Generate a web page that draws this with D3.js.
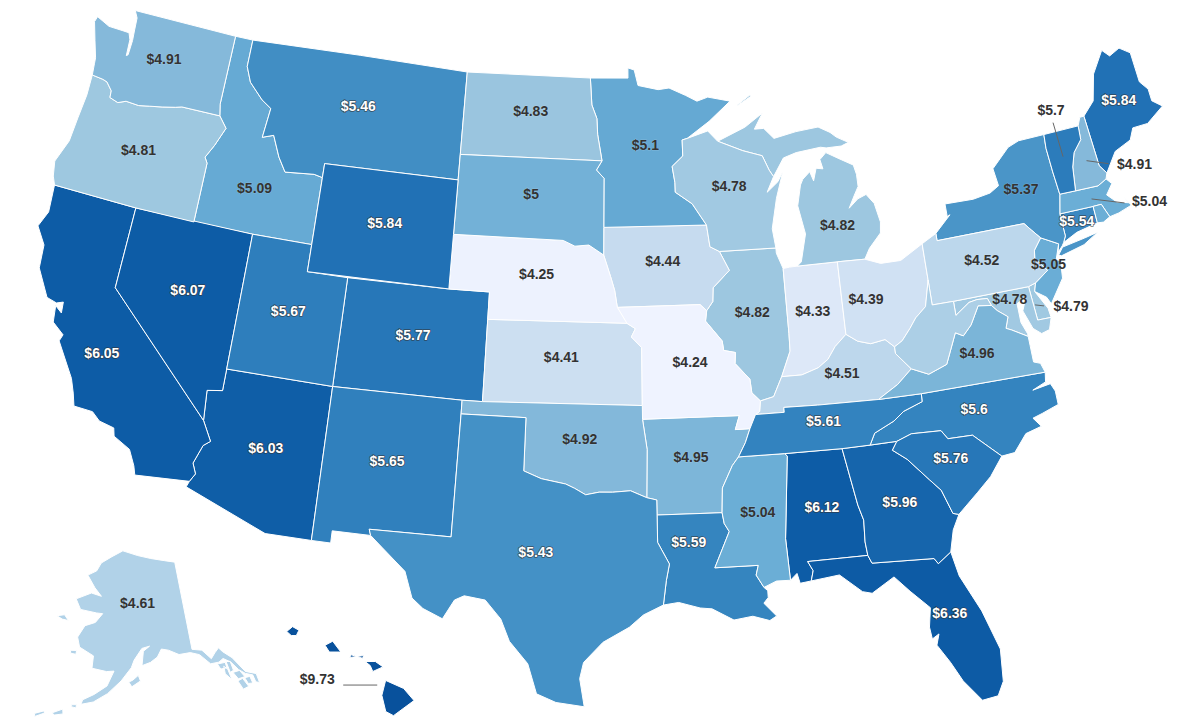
<!DOCTYPE html>
<html>
<head>
<meta charset="utf-8">
<script src="https://cdn.jsdelivr.net/npm/d3@7"></script>
<style>
  html, body { margin: 0; background: #fff; }
  svg { display: block; }
  text { font-family: "Liberation Sans", Arial, sans-serif; font-weight: bold; font-size: 14px; text-anchor: middle; paint-order: stroke; stroke-linejoin: round; }
</style>
</head>
<body>
<svg id="map" width="1200" height="720"></svg>
<script>
const stateCodes = ["AL","AK","AZ","AR","CA","CO","CT","DE","FL","GA","HI","ID","IL","IN","IA","KS","KY","LA","ME","MD","MA","MI","MN","MS","MO","MT","NE","NV","NH","NJ","NM","NY","NC","ND","OH","OK","OR","PA","RI","SC","SD","TN","TX","UT","VT","VA","WA","WV","WI","WY"];
const priceValues = [6.12,4.61,6.03,4.95,6.05,5.77,5.54,4.79,6.36,5.96,9.73,5.09,4.82,4.33,4.44,4.41,4.51,5.59,5.84,4.78,5.04,4.82,5.1,5.04,4.24,5.46,4.25,6.07,4.91,5.05,5.65,5.37,5.6,4.83,4.39,4.92,4.81,4.52,5.04,5.76,5,5.61,5.43,5.67,5.7,4.96,4.91,4.66,4.78,5.84];
const priceLabels = priceValues.map(v => "$" + v);
const unlabelled = ["RI","WV"];
const outsideLabels = ["VT","NH","MA","DE","HI"]; // these sit on the white page

// colour ramp
const rampValues = [4.24,4.44,4.61,4.82,4.91,5.04,5.37,5.6,5.84,6.05,9.73];
const rampColors = ["#eff3ff","#c6dbef","#b1d2e8","#9dc7e0","#85b9da","#6baed6","#4a95c8","#3484bf","#2171b5","#0d5ca6","#08519c"];

// label shift from the state centroid, px
const labelShift = {WA:[0,-5],OR:[0,-4],CA:[-12,15],NV:[2,-5],ID:[1,19],MT:[-1,-5],WY:[0,-4],UT:[1,-4],CO:[0,-5],AZ:[1,-3],NM:[-1,-4],ND:[1,-6],SD:[0,-5],NE:[1,-5],KS:[-1,-6],OK:[0,-4],TX:[-1,-5],MN:[0,-5],IA:[0,-5],MO:[2,-5],AR:[0,-5],LA:[-19,-26],MS:[1,-5],AL:[1,-5],GA:[1,-5],FL:[15,1],SC:[0,-6],NC:[-4,-4],TN:[0,-5],KY:[0,-5],VA:[1,-5],OH:[-17,2],IN:[0,-5],IL:[-1,-5],WI:[1,-7],MI:[18,31],PA:[0,-4],NY:[6,-10],ME:[2,-5],VT:[-12,-47],NH:[48,2],MA:[58,1],CT:[-1,0],NJ:[0,-5],DE:[32,1],MD:[-2,-10],HI:[-62,-6],AK:[0,-16]};
// leader lines from the state centroid, px
const leaderShift = {VT:[-10,-34,0,0],NH:[0,-1,22,2],MA:[0,-1,33,3],DE:[-4,0,5,1],HI:[-36,0,-2,0]};

// state outlines, lon/lat
const outlines = {
  WA: [[[-122.76,49],[-117.03,49],[-117.04,46.42],[-116.92,46],[-118.98,46],[-119.3,45.93],[-119.99,45.82],[-120.65,45.73],[-121.2,45.65],[-121.9,45.68],[-122.3,45.55],[-122.77,45.65],[-122.8,45.9],[-123.15,46.17],[-123.4,46.22],[-124,46.26],[-124.07,46.7],[-124.1,46.9],[-124.4,47.5],[-124.73,48.17],[-124.65,48.38],[-123.9,48.16],[-123.1,48.15],[-122.75,48.14],[-122.6,47.9],[-122.55,47.3],[-122.47,47.35],[-122.45,47.9],[-122.5,48.3],[-122.55,48.75]]],
  OR: [[[-124,46.26],[-123.4,46.22],[-123.15,46.17],[-122.8,45.9],[-122.77,45.65],[-122.3,45.55],[-121.9,45.68],[-121.2,45.65],[-120.65,45.73],[-119.99,45.82],[-119.3,45.93],[-118.98,46],[-116.92,46],[-116.46,45.6],[-116.85,44.9],[-117.2,44.4],[-117.03,44.2],[-117.03,43.8],[-117.03,42],[-120,42],[-124.21,42],[-124.4,42.3],[-124.55,42.84],[-124.15,43.7],[-124.07,44.6],[-123.97,45.5]]],
  CA: [[[-124.21,42],[-120,42],[-120,39],[-114.63,35],[-114.14,34.3],[-114.43,34.1],[-114.72,33.4],[-114.52,33.03],[-114.72,32.72],[-117.12,32.53],[-117.25,32.85],[-117.6,33.4],[-118.4,33.74],[-118.5,34.03],[-119.2,34.15],[-119.6,34.42],[-120.47,34.45],[-120.65,34.9],[-120.9,35.4],[-121.9,36.6],[-121.8,36.85],[-122.4,37.2],[-122.5,37.8],[-122.15,37.6],[-122.2,38],[-122.5,37.9],[-123,38],[-123.75,38.95],[-123.85,39.8],[-124.4,40.4],[-124.1,41]]],
  NV: [[[-120,42],[-114.04,42],[-114.04,37],[-114.04,36.2],[-114.74,36.1],[-114.63,35],[-120,39]]],
  ID: [[[-117.03,49],[-116.05,49],[-116.05,48],[-115.7,47.45],[-114.9,46.9],[-114.35,46.65],[-114.5,45.55],[-113.93,45.7],[-113.45,44.95],[-113,44.45],[-111.5,44.55],[-111.05,44.48],[-111.05,42],[-114.04,42],[-117.03,42],[-117.03,43.8],[-117.03,44.2],[-117.2,44.4],[-116.85,44.9],[-116.46,45.6],[-116.92,46],[-117.04,46.42]]],
  MT: [[[-116.05,49],[-104.05,49],[-104.05,45.94],[-104.05,45],[-111.05,45],[-111.05,44.48],[-111.5,44.55],[-113,44.45],[-113.45,44.95],[-113.93,45.7],[-114.5,45.55],[-114.35,46.65],[-114.9,46.9],[-115.7,47.45],[-116.05,48]]],
  WY: [[[-111.05,45],[-104.05,45],[-104.05,43],[-104.05,41],[-111.05,41],[-111.05,42],[-111.05,44.48]]],
  UT: [[[-114.04,42],[-111.05,42],[-111.05,41],[-109.05,41],[-109.05,37],[-114.04,37]]],
  CO: [[[-109.05,41],[-104.05,41],[-102.05,41],[-102.05,40],[-102.05,37],[-103,37],[-109.05,37]]],
  AZ: [[[-114.04,37],[-109.05,37],[-109.05,31.33],[-111.07,31.33],[-114.81,32.5],[-114.72,32.72],[-114.52,33.03],[-114.72,33.4],[-114.43,34.1],[-114.14,34.3],[-114.63,35],[-114.74,36.1],[-114.04,36.2]]],
  NM: [[[-109.05,37],[-103,37],[-103,36.5],[-103.04,32],[-106.62,32],[-106.53,31.78],[-108.21,31.78],[-108.21,31.33],[-109.05,31.33]]],
  ND: [[[-104.05,49],[-97.23,49],[-97.13,48],[-96.85,47.5],[-96.8,46.9],[-96.56,45.94],[-104.05,45.94]]],
  SD: [[[-104.05,45.94],[-96.56,45.94],[-96.85,45.6],[-96.45,45.3],[-96.45,43.5],[-96.45,42.49],[-97.2,42.85],[-97.9,42.8],[-98.5,43],[-104.05,43],[-104.05,45]]],
  NE: [[[-104.05,43],[-98.5,43],[-97.9,42.8],[-97.2,42.85],[-96.45,42.49],[-96.1,41.7],[-95.9,41.2],[-95.77,40.58],[-95.31,40],[-102.05,40],[-102.05,41],[-104.05,41]]],
  KS: [[[-102.05,40],[-95.31,40],[-94.9,39.8],[-95.1,39.5],[-94.61,39.11],[-94.62,37],[-102.05,37]]],
  OK: [[[-103,37],[-102.05,37],[-94.62,37],[-94.62,36.5],[-94.43,35.4],[-94.48,33.64],[-95.2,33.9],[-96,33.85],[-96.6,33.85],[-97.2,33.75],[-97.7,33.98],[-98.1,34.13],[-99.2,34.3],[-100,34.56],[-100,36.5],[-103,36.5]]],
  TX: [[[-103,36.5],[-100,36.5],[-100,34.56],[-99.2,34.3],[-98.1,34.13],[-97.7,33.98],[-97.2,33.75],[-96.6,33.85],[-96,33.85],[-95.2,33.9],[-94.48,33.64],[-94.04,33.55],[-94.04,33],[-94.04,32],[-93.55,31.2],[-93.7,30.6],[-93.85,29.7],[-94.7,29.35],[-95.3,28.9],[-96.4,28.35],[-97.2,27.6],[-97.35,27],[-97.15,25.96],[-98.3,26.1],[-99.1,26.4],[-99.5,27.5],[-100.3,28.3],[-100.7,29.1],[-101.4,29.77],[-102.3,29.88],[-102.7,29.7],[-103.15,28.98],[-104,29.3],[-104.5,29.65],[-104.9,30.6],[-106,31.4],[-106.53,31.78],[-106.62,32],[-103.04,32]]],
  MN: [[[-97.23,49],[-95.15,49],[-95.15,49.38],[-94.8,49.3],[-94.6,48.72],[-93.5,48.55],[-92.9,48.6],[-92,48.3],[-91.4,48.07],[-90.8,48.2],[-89.6,48],[-90.8,47.3],[-92.02,46.71],[-92.29,46.66],[-92.29,46.07],[-92.87,45.7],[-92.75,45.1],[-92.75,44.75],[-91.9,44.3],[-91.22,43.5],[-96.45,43.5],[-96.45,45.3],[-96.85,45.6],[-96.56,45.94],[-96.8,46.9],[-96.85,47.5],[-97.13,48]]],
  IA: [[[-96.45,43.5],[-91.22,43.5],[-91.1,42.7],[-90.64,42.51],[-90.2,41.8],[-91.05,41.2],[-91.1,40.7],[-91.42,40.38],[-91.73,40.61],[-95.77,40.58],[-95.9,41.2],[-96.1,41.7],[-96.45,42.49]]],
  MO: [[[-95.77,40.58],[-91.73,40.61],[-91.42,40.38],[-91.5,40],[-90.75,39.25],[-90.7,38.9],[-90.15,38.8],[-90.2,38.4],[-89.55,37.8],[-89.5,37.3],[-89.13,36.98],[-89.2,36.6],[-89.4,36.5],[-89.7,36],[-90.37,36],[-90.15,36.5],[-94.62,36.5],[-94.62,37],[-94.61,39.11],[-95.1,39.5],[-94.9,39.8],[-95.31,40]]],
  AR: [[[-94.62,36.5],[-90.15,36.5],[-90.37,36],[-89.7,36],[-89.95,35.5],[-90.3,35],[-90.6,34.7],[-91.1,33.9],[-91.17,33],[-94.04,33],[-94.04,33.55],[-94.48,33.64],[-94.43,35.4]]],
  LA: [[[-94.04,33],[-91.17,33],[-91.1,32.6],[-90.9,32.3],[-91.6,31],[-89.73,31],[-89.85,30.65],[-89.55,30.18],[-89.4,30.05],[-89.4,29.8],[-89.6,29.6],[-89.1,29.1],[-89.4,28.95],[-90.1,29.15],[-90.9,29.05],[-91.8,29.5],[-92.3,29.55],[-93.2,29.78],[-93.85,29.7],[-93.7,30.6],[-93.55,31.2],[-94.04,32]]],
  MS: [[[-91.17,33],[-91.1,33.9],[-90.6,34.7],[-90.3,35],[-88.2,35],[-88.1,34.9],[-88.47,31.9],[-88.4,30.37],[-89,30.38],[-89.55,30.18],[-89.85,30.65],[-89.73,31],[-91.6,31],[-90.9,32.3],[-91.1,32.6]]],
  AL: [[[-88.2,35],[-85.6,34.98],[-85.18,32.87],[-85,32.3],[-85.05,31.5],[-85,31],[-87.6,31],[-87.4,30.65],[-87.52,30.28],[-88,30.23],[-88.1,30.6],[-88.4,30.37],[-88.47,31.9],[-88.1,34.9]]],
  GA: [[[-85.6,34.98],[-84.32,34.99],[-83.1,35],[-83.35,34.7],[-82.75,34.3],[-81.9,33.45],[-81.45,33],[-81.1,32.1],[-80.85,32.03],[-81.2,31.5],[-81.45,30.72],[-82.05,30.36],[-82.2,30.57],[-84.86,30.7],[-85,31],[-85.05,31.5],[-85,32.3],[-85.18,32.87]]],
  FL: [[[-87.6,31],[-85,31],[-84.86,30.7],[-82.2,30.57],[-82.05,30.36],[-81.45,30.72],[-81.25,29.8],[-80.55,28.4],[-80.05,26.9],[-80.15,25.7],[-80.45,25.2],[-81.1,25.13],[-81.75,25.95],[-82.15,26.7],[-82.6,27.4],[-82.45,27.8],[-82.75,27.65],[-82.8,28.1],[-82.65,28.8],[-83.4,29.5],[-84,30.1],[-85,29.6],[-85.4,29.7],[-86.3,30.4],[-87.52,30.28],[-87.4,30.65]]],
  SC: [[[-83.35,34.7],[-83.1,35],[-82.4,35.2],[-81.05,35.15],[-80.8,34.82],[-79.68,34.8],[-78.55,33.86],[-79.2,33.2],[-79.9,32.7],[-80.85,32.03],[-81.1,32.1],[-81.45,33],[-81.9,33.45],[-82.75,34.3]]],
  NC: [[[-84.32,34.99],[-83.1,35],[-82.4,35.2],[-81.05,35.15],[-80.8,34.82],[-79.68,34.8],[-78.55,33.86],[-77.95,33.9],[-77.3,34.5],[-76.55,34.65],[-76.85,35],[-76.4,35.1],[-75.6,35.3],[-75.6,35.8],[-75.75,36.1],[-76.6,36],[-75.95,36.2],[-75.87,36.55],[-81.68,36.59],[-81.7,36.3],[-82.6,36.05],[-83.1,35.75],[-84.05,35.4]]],
  TN: [[[-90.3,35],[-88.2,35],[-85.6,34.98],[-84.32,34.99],[-84.05,35.4],[-83.1,35.75],[-82.6,36.05],[-81.7,36.3],[-81.68,36.59],[-83.68,36.6],[-86.5,36.65],[-88.07,36.68],[-88.07,36.5],[-89.4,36.5],[-89.7,36],[-89.95,35.5]]],
  KY: [[[-83.68,36.6],[-86.5,36.65],[-88.07,36.68],[-88.07,36.5],[-89.4,36.5],[-89.2,36.6],[-89.13,36.98],[-88.5,37.1],[-88.05,37.8],[-87.1,37.8],[-86.3,38],[-85.8,38.27],[-85.4,38.7],[-84.82,39.1],[-84.3,38.8],[-83.7,38.65],[-83,38.73],[-82.6,38.42],[-82.6,38.17],[-81.97,37.54],[-82.7,37.05]]],
  VA: [[[-83.68,36.6],[-81.68,36.59],[-75.87,36.55],[-76,36.9],[-76.3,37],[-76.3,37.6],[-76.3,37.95],[-77,38.3],[-77.25,38.4],[-77.05,38.8],[-77.5,39.1],[-77.72,39.32],[-78.35,39.4],[-78.85,38.76],[-79.3,38.42],[-79.65,38.58],[-80.3,37.5],[-81.2,37.25],[-81.97,37.54],[-82.7,37.05]]],
  WV: [[[-81.97,37.54],[-82.6,38.17],[-82.6,38.42],[-82.2,38.6],[-81.75,39],[-81.4,39.35],[-80.85,39.7],[-80.52,40.64],[-80.52,39.72],[-79.48,39.72],[-79.48,39.2],[-78.75,39.58],[-78.35,39.63],[-77.85,39.6],[-77.72,39.32],[-78.35,39.4],[-78.85,38.76],[-79.3,38.42],[-79.65,38.58],[-80.3,37.5],[-81.2,37.25]]],
  PA: [[[-80.52,41.98],[-79.76,42.27],[-79.76,42],[-75.35,42],[-75.05,41.7],[-74.7,41.36],[-75.13,40.97],[-75.2,40.68],[-74.72,40.15],[-75.42,39.8],[-75.79,39.72],[-79.48,39.72],[-80.52,39.72],[-80.52,40.64]]],
  NY: [[[-79.76,42.27],[-79.76,42],[-75.35,42],[-75.05,41.7],[-74.7,41.36],[-73.9,41],[-74.02,40.7],[-73.75,40.9],[-73.65,41],[-73.49,41.22],[-73.5,42.05],[-73.27,42.75],[-73.35,43.6],[-73.4,44.5],[-73.34,45.01],[-74.7,45],[-75.3,44.85],[-76.3,44.2],[-76.2,43.55],[-76.7,43.35],[-77.6,43.25],[-79.05,43.27],[-79.05,42.8],[-78.9,42.85]],[[-74.03,40.6],[-73.75,40.85],[-72.6,40.98],[-71.9,41.07],[-72.7,40.75],[-73.9,40.55]]],
  CT: [[[-73.65,41],[-73.49,41.22],[-73.5,42.05],[-71.8,42.02],[-71.8,41.4],[-72.9,41.25]]],
  RI: [[[-71.8,42.02],[-71.38,42.02],[-71.13,41.5],[-71.5,41.37],[-71.8,41.4]]],
  MA: [[[-73.5,42.05],[-73.27,42.75],[-72.46,42.73],[-71.3,42.7],[-70.82,42.87],[-70.6,42.65],[-71,42.3],[-70.6,41.95],[-70,41.8],[-70.2,42.07],[-69.95,41.7],[-70.65,41.55],[-71.13,41.5],[-71.38,42.02],[-71.8,42.02]]],
  VT: [[[-73.34,45.01],[-71.5,45.01],[-71.55,44.5],[-72.05,44.1],[-72.3,43.6],[-72.46,42.73],[-73.27,42.75],[-73.35,43.6],[-73.4,44.5]]],
  NH: [[[-71.5,45.01],[-71.3,45.3],[-71.08,45.3],[-70.98,43.4],[-70.7,43.07],[-70.82,42.87],[-71.3,42.7],[-72.46,42.73],[-72.3,43.6],[-72.05,44.1],[-71.55,44.5]]],
  ME: [[[-71.08,45.3],[-70.4,45.75],[-70,46.7],[-69.23,47.46],[-68.9,47.18],[-68.3,47.36],[-67.79,47.07],[-67.78,45.95],[-67.45,45.6],[-67.45,45.15],[-67,44.85],[-68,44.4],[-68.8,44.4],[-69.1,44],[-70,43.75],[-70.7,43.07],[-70.98,43.4]]],
  NJ: [[[-75.13,40.97],[-74.7,41.36],[-73.9,41],[-74.2,40.45],[-74,40.4],[-74.1,39.75],[-74.9,38.93],[-75.05,39.2],[-75.55,39.5],[-75.42,39.8],[-74.72,40.15],[-75.2,40.68]]],
  DE: [[[-75.79,39.72],[-75.42,39.8],[-75.55,39.5],[-75.1,38.8],[-75.05,38.45],[-75.7,38.46]]],
  MD: [[[-79.48,39.72],[-75.79,39.72],[-75.7,38.46],[-75.05,38.45],[-75.25,38.03],[-75.65,37.95],[-76,38.2],[-76.3,38.9],[-76,39.4],[-76.5,39.2],[-76.5,38.5],[-76.3,38.05],[-76.3,37.95],[-77,38.3],[-77.25,38.4],[-77.05,38.8],[-77.5,39.1],[-77.72,39.32],[-77.85,39.6],[-78.35,39.63],[-78.75,39.58],[-79.48,39.2]]],
  OH: [[[-84.82,41.76],[-83.45,41.73],[-82.7,41.5],[-81.7,41.5],[-80.52,41.98],[-80.52,40.64],[-80.85,39.7],[-81.4,39.35],[-81.75,39],[-82.2,38.6],[-82.6,38.42],[-83,38.73],[-83.7,38.65],[-84.3,38.8],[-84.82,39.1]]],
  IN: [[[-87.53,41.72],[-87.2,41.75],[-86.82,41.76],[-84.82,41.76],[-84.82,39.1],[-85.4,38.7],[-85.8,38.27],[-86.3,38],[-87.1,37.8],[-88.05,37.8],[-87.55,38.7],[-87.53,39.35]]],
  IL: [[[-87.53,41.72],[-87.8,42.3],[-87.8,42.49],[-90.64,42.51],[-90.2,41.8],[-91.05,41.2],[-91.1,40.7],[-91.42,40.38],[-91.5,40],[-90.75,39.25],[-90.7,38.9],[-90.15,38.8],[-90.2,38.4],[-89.55,37.8],[-89.5,37.3],[-89.13,36.98],[-88.5,37.1],[-88.05,37.8],[-87.55,38.7],[-87.53,39.35]]],
  WI: [[[-92.29,46.66],[-92.02,46.71],[-90.9,46.95],[-90.4,46.55],[-89.1,46.14],[-88.1,45.9],[-87.8,45.35],[-87.6,45.1],[-88,44.55],[-87.4,44.9],[-87.1,45.25],[-87.55,44.3],[-87.9,43.2],[-87.8,42.49],[-90.64,42.51],[-91.1,42.7],[-91.22,43.5],[-91.9,44.3],[-92.75,44.75],[-92.75,45.1],[-92.87,45.7],[-92.29,46.07]]],
  MI: [[[-86.82,41.76],[-84.82,41.76],[-83.45,41.73],[-83.15,42.1],[-82.5,42.6],[-82.42,43],[-82.6,43.7],[-82.95,44.07],[-83.4,43.95],[-83.9,43.65],[-83.55,44.1],[-83.3,44.4],[-83.3,44.85],[-83.4,45.2],[-84.1,45.5],[-84.75,45.78],[-85.1,45.55],[-85,45.2],[-85.35,45.25],[-85.55,44.8],[-85.7,45.15],[-86.1,44.9],[-86.25,44.7],[-86.5,43.95],[-86.25,42.9],[-86.6,41.9]],[[-90.4,46.55],[-89.1,46.14],[-88.1,45.9],[-87.8,45.35],[-87.6,45.1],[-87,45.75],[-86.3,45.9],[-85,46],[-84.7,45.95],[-83.9,45.95],[-83.5,46.05],[-84.1,46.3],[-84.4,46.5],[-85,46.75],[-86.2,46.67],[-87.4,46.5],[-87.9,46.9],[-88.4,46.9],[-87.9,47.47],[-88.9,47]],[[-89.2,47.85],[-88.5,48.17],[-88.45,48.12],[-89.2,47.82]]],
  AK: [[[-141,69.65],[-141,60.3],[-139,60],[-137.5,58.9],[-136.5,59.4],[-135.5,59.8],[-134.9,59.3],[-133.4,58.4],[-131.8,56.6],[-130,56],[-130,55],[-130.6,55.2],[-130.7,56],[-131.9,56.4],[-132.9,57],[-133.9,58],[-135.2,58.6],[-136.2,58.35],[-137.9,58.4],[-139.7,59.6],[-141.5,60],[-143.9,60],[-146,60.6],[-147.5,60.8],[-148.5,60],[-150,59.5],[-151.8,59.2],[-151.4,60.7],[-150,61.2],[-151.7,61],[-153.4,59.8],[-154,59],[-156,57.6],[-158.5,56.2],[-161,55.2],[-163.2,54.8],[-163,55.3],[-161,56],[-158.7,57],[-157.5,58.6],[-159,58.5],[-162,58.7],[-162,60],[-165.2,60.7],[-166,61.7],[-164.8,63],[-162.5,63.5],[-161,64.5],[-162.5,64.5],[-166.5,64.6],[-168.1,65.6],[-164.5,66.5],[-161.8,66.3],[-163.8,67.1],[-166.3,68.3],[-164,68.9],[-163,69.8],[-160,70.6],[-156.7,71.3],[-152,70.8],[-148,70.4],[-144,70]],[[-167,60.2],[-165.7,60.3],[-165.7,59.9],[-166.8,59.9]],[[-171.7,63.4],[-170,63.7],[-168.8,63.2],[-170.3,63.2]],[[-154.5,57.5],[-153.9,57],[-152.2,57.6],[-152.6,58.2],[-153.7,57.7]],[[-168,53.4],[-166.3,54],[-166.1,53.5],[-167.6,53.2]],[[-164.9,54.6],[-164,54.7],[-164,54.35],[-164.9,54.4]],[[-171,52.9],[-169.5,53.4],[-169.3,53.2],[-170.8,52.6]],[[-133.7,55.9],[-132.7,56],[-132.1,55],[-133.2,54.9]],[[-132.3,56],[-131.3,55.95],[-131.2,55.2],[-132,55.3]],[[-134.1,56.9],[-132.8,56.9],[-132.2,56.1],[-133.5,56.1]],[[-134.8,58.2],[-134,58.1],[-133.9,57.1],[-134.6,57]],[[-135.5,57.8],[-134.9,57.4],[-134.7,56.2],[-135.6,57]],[[-136.6,58.2],[-135,58.15],[-135,57.55],[-136.2,57.6]]],
  HI: [[[-155.9,20.25],[-155.2,19.95],[-154.8,19.5],[-155.6,18.95],[-155.9,19.1],[-156.05,19.7]],[[-156.7,20.95],[-156.3,20.95],[-156,20.75],[-156.4,20.58],[-156.5,20.8]],[[-158.27,21.55],[-157.97,21.7],[-157.65,21.3],[-158.1,21.3]],[[-159.78,22.05],[-159.55,22.23],[-159.3,22.1],[-159.4,21.9],[-159.6,21.9]],[[-157.3,21.1],[-156.75,21.17],[-156.8,21.07],[-157.25,21.2]]]
};

const width = 1200, height = 720;
const svg = d3.select("#map");
const color = d3.scaleLinear().domain(rampValues).range(rampColors);
const projection = d3.geoAlbersUsa().scale(1559).translate([width / 2, 359]);
const path = d3.geoPath(projection);

// d3 wants clockwise rings, flip any that come out as the whole globe
function toFeature(code) {
  const polys = outlines[code].map(ring => {
    const closed = ring.concat([ring[0]]);
    return d3.geoArea({ type: "Polygon", coordinates: [closed] }) > 2 * Math.PI ? [closed.reverse()] : [closed];
  });
  return { type: "Feature", id: code, geometry: { type: "MultiPolygon", coordinates: polys } };
}

const states = stateCodes.map((code, i) => {
  const feature = toFeature(code);
  return { code, value: priceValues[i], label: priceLabels[i], feature, center: path.centroid(feature) };
});

svg.selectAll("path.state")
  .data(states)
  .join("path")
  .attr("class", "state")
  .attr("d", d => path(d.feature))
  .attr("fill", d => color(d.value))
  .attr("stroke", "#fff")
  .attr("stroke-width", 1);

// leader lines for the small states
svg.selectAll("line.leader")
  .data(states.filter(d => leaderShift[d.code]))
  .join("line")
  .attr("class", "leader")
  .attr("x1", d => d.center[0] + leaderShift[d.code][0])
  .attr("y1", d => d.center[1] + leaderShift[d.code][1])
  .attr("x2", d => d.center[0] + leaderShift[d.code][2])
  .attr("y2", d => d.center[1] + leaderShift[d.code][3])
  .attr("stroke", "#666")
  .attr("stroke-width", 1);

// white text only on the dark fills
const isLight = d => d.value >= 5.4 && !outsideLabels.includes(d.code);

svg.selectAll("text.price")
  .data(states.filter(d => !unlabelled.includes(d.code)))
  .join("text")
  .attr("class", "price")
  .attr("x", d => d.center[0] + (labelShift[d.code] || [0, 0])[0])
  .attr("y", d => d.center[1] + (labelShift[d.code] || [0, 0])[1] + 5)
  .attr("fill", d => isLight(d) ? "#fff" : "#333")
  .attr("stroke", d => isLight(d) ? "#333" : "#fff")
  .attr("stroke-opacity", d => isLight(d) ? 0.7 : 0.2)
  .attr("stroke-width", d => isLight(d) ? 1.6 : 1)
  .text(d => d.label);
</script>
</body>
</html>
